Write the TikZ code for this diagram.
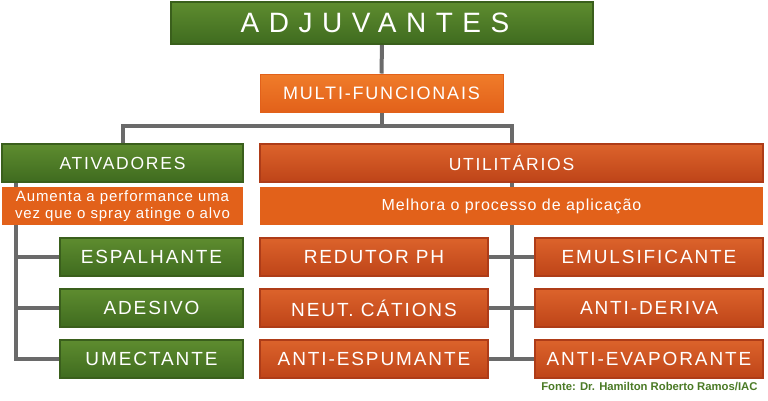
\documentclass[tikz,border=0pt]{standalone}
\usepackage{fontspec}
\setmainfont{Liberation Sans}
\newfontfamily\titlefont{Liberation Sans}[LetterSpace=34]
\newfontfamily\boxfont{Liberation Sans}[LetterSpace=10]
\newfontfamily\descfont{Liberation Sans}[LetterSpace=6]
\usepackage{xcolor}
\usepackage{tikz}
\usetikzlibrary{positioning,backgrounds,calc}

\definecolor{greentop}{HTML}{5E8C2F}
\definecolor{greenbot}{HTML}{3F6B1F}
\definecolor{greenedge}{HTML}{3A5F1C}
\definecolor{redtop}{HTML}{DC632B}
\definecolor{redbot}{HTML}{BE4418}
\definecolor{rededge}{HTML}{AE3C18}
\definecolor{orangefill}{HTML}{E2611A}
\definecolor{orangetop}{HTML}{F07C2A}
\definecolor{linkgray}{HTML}{6A6A6A}
\definecolor{fontegreen}{HTML}{4A7A25}

\begin{document}
\begin{tikzpicture}[x=1pt, y=-1pt,
    greenbox/.style={rectangle, draw=greenedge, line width=1.2pt, top color=greentop, bottom color=greenbot,
        text=white, inner sep=0pt, font=\boxfont\fontsize{19}{21}\selectfont},
    redbox/.style={rectangle, draw=rededge, line width=1.2pt, top color=redtop, bottom color=redbot,
        text=white, inner sep=0pt, font=\boxfont\fontsize{19}{21}\selectfont},
    groupbox/.style={font=\boxfont\fontsize{17.5}{20}\selectfont},
    descbox/.style={rectangle, fill=orangefill, text=white, inner sep=0pt, align=center},
    link/.style={draw=linkgray, line width=4pt},
]

\useasboundingbox (0,0) rectangle (768,400);

% Top of the tree
\node[greenbox, minimum width=422pt, minimum height=42pt, font=\titlefont\fontsize{28}{30}\selectfont] (adj) at (382,23) {\kern-7pt ADJUVANTES\kern7pt};
\node[rectangle, draw=orangefill, line width=1pt, top color=orangetop, bottom color=orangefill, text=white,
    inner sep=0pt, minimum width=243pt, minimum height=38pt, font=\boxfont\fontsize{18}{20}\selectfont] (multi) at (381.5,93) {MULTI-FUNCIONAIS};

% Two groups
\node[greenbox, groupbox, minimum width=241pt, minimum height=38pt] (ativ) at (122.5,163) {ATIVADORES};
\node[descbox, minimum width=241pt, minimum height=38pt, font=\descfont\fontsize{15}{16.5}\selectfont] (ativdesc) at (122.5,206) {Aumenta a performance uma\\vez que o spray atinge o alvo};
\node[redbox, groupbox, minimum width=503pt, minimum height=38pt] (util) at (511.5,163) {UTILITÁRIOS};
\node[descbox, minimum width=503pt, minimum height=38pt, font=\descfont\fontsize{16}{18}\selectfont] (utildesc) at (511.5,206) {Melhora o processo de aplicação};

% Ativadores
\node[greenbox, minimum width=183pt, minimum height=38pt] (espa) at (151.5,257) {ESPALHANTE};
\node[greenbox, minimum width=183pt, minimum height=38pt] (ades) at (151.5,308) {ADESIVO};
\node[greenbox, minimum width=183pt, minimum height=38pt] (umec) at (151.5,359) {UMECTANTE};

% Utilitarios
\node[redbox, minimum width=228pt, minimum height=38pt] (redu) at (374,257) {REDUTOR PH};
\node[redbox, minimum width=228pt, minimum height=38pt] (neut) at (374,308) {NEUT. CÁTIONS};
\node[redbox, minimum width=228pt, minimum height=38pt] (espu) at (374,359) {ANTI-ESPUMANTE};
\node[redbox, minimum width=228pt, minimum height=38pt] (emul) at (649,257) {EMULSIFICANTE};
\node[redbox, minimum width=228pt, minimum height=38pt] (deri) at (649,308) {ANTI-DERIVA};
\node[redbox, minimum width=228pt, minimum height=38pt] (evap) at (649,359) {ANTI-EVAPORANTE};

% Source
\node[anchor=east, text=fontegreen, font=\bfseries\fontsize{11.3}{13}\selectfont] (fonte) at (761,387) {Fonte: Dr. Hamilton Roberto Ramos/IAC};

% Connectors
\coordinate (split) at (381.5,126);
\coordinate (atop) at (16,182);
\coordinate (abot) at (16,359);
\coordinate (ubot) at (511.5,359);
\begin{scope}[on background layer]
\draw[link] (adj) -- (multi);
\draw[link] (multi) -- (split) -| (ativ);
\draw[link] (split) -| (util);
\draw[link] (atop) |- (umec);
\draw[link] (espa.west) -- (espa.west -| atop);
\draw[link] (ades.west) -- (ades.west -| atop);
\draw[link] (util.south) -- (ubot);
\draw[link] (redu) -- (emul);
\draw[link] (neut) -- (deri);
\draw[link] (espu) -- (evap);
\end{scope}

\end{tikzpicture}
\end{document}
